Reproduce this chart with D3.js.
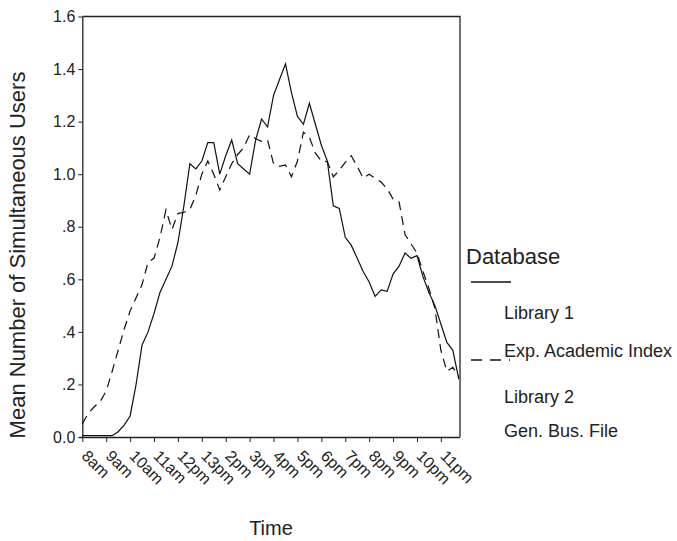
<!DOCTYPE html>
<html lang="en">
<head>
    <title>Mean Number of Simultaneous Users</title>
    <style>
        body { margin: 0; background: #fff; }
        svg { font-family: "Liberation Sans", Arial, sans-serif; }
        .axis path, .axis line { stroke: #222; }
        .axis text { fill: #222; }
    </style>
    <script src="https://d3js.org/d3.v7.min.js"></script>
</head>
<body>
    <svg></svg>
    <script>
        // hour labels under the ticks (one tick per hour, 8am .. 11pm)
        var hourLabels = ["8am", "9am", "10am", "11am", "12pm", "13pm", "2pm", "3pm",
                          "4pm", "5pm", "6pm", "7pm", "8pm", "9pm", "10pm", "11pm"];
        var yTicks = [0, 0.2, 0.4, 0.6, 0.8, 1.0, 1.2, 1.4, 1.6];
        var yTickLabels = ["0.0", ".2", ".4", ".6", ".8", "1.0", "1.2", "1.4", "1.6"];

        // readings are every 15 minutes starting at 8:00
        var startHour = 8, slotHours = 0.25;

        // Library 1 - Exp. Academic Index (solid)
        var library1 = [0.005, 0.005, 0.005, 0.005, 0.005, 0.005, 0.02, 0.045, 0.08, 0.2,
                        0.35, 0.40, 0.47, 0.55, 0.60, 0.65, 0.74, 0.88, 1.04, 1.02,
                        1.05, 1.12, 1.12, 1.0, 1.07, 1.13, 1.04, 1.02, 1.0, 1.13,
                        1.21, 1.18, 1.30, 1.36, 1.42, 1.31, 1.22, 1.19, 1.27, 1.19,
                        1.11, 1.05, 0.88, 0.87, 0.76, 0.73, 0.68, 0.63, 0.59, 0.535,
                        0.56, 0.554, 0.62, 0.65, 0.70, 0.68, 0.69, 0.61, 0.55, 0.50,
                        0.43, 0.36, 0.33, 0.22];
        // Library 2 - Gen. Bus. File (dashed)
        var library2 = [0.05, 0.09, 0.115, 0.135, 0.175, 0.25, 0.33, 0.41, 0.48, 0.53,
                        0.58, 0.665, 0.68, 0.76, 0.864, 0.79, 0.85, 0.855, 0.865, 0.92,
                        1.0, 1.05, 1.0, 0.94, 0.99, 1.04, 1.075, 1.10, 1.15, 1.135,
                        1.125, 1.13, 1.04, 1.03, 1.035, 0.99, 1.05, 1.16, 1.14, 1.08,
                        1.05, 1.048, 0.99, 1.015, 1.045, 1.07, 1.03, 0.985, 1.0, 0.985,
                        0.97, 0.945, 0.905, 0.895, 0.77, 0.735, 0.70, 0.63, 0.565, 0.49,
                        0.33, 0.25, 0.265, 0.23];

        var margin = {top: 16.5, right: 217, bottom: 104, left: 82.3},
            width = 677 - margin.left - margin.right,
            height = 541 - margin.top - margin.bottom;

        var x = d3.scaleLinear()
            .domain([8, 23.8])
            .range([0, width]);
        var y = d3.scaleLinear()
            .domain([0, 1.6])
            .range([height, 0]);

        var svg = d3.select("svg")
            .attr("width", 677)
            .attr("height", 541);
        var g = svg.append("g")
            .attr("transform", "translate(" + margin.left + "," + margin.top + ")");

        // frame top and right
        g.append("path")
            .attr("d", "M0,0H" + width + "V" + height)
            .attr("fill", "none")
            .attr("stroke", "#222")
            .attr("stroke-width", 1.3);

        // x axis
        var xAxis = g.append("g")
            .attr("class", "axis")
            .attr("transform", "translate(0," + height + ")")
            .call(d3.axisBottom(x)
                .tickValues(d3.range(hourLabels.length).map(function(i) { return startHour + i; }))
                .tickFormat(function(d, i) { return hourLabels[i]; })
                .tickSize(5)
                .tickSizeOuter(0));
        xAxis.select(".domain").attr("stroke-width", 1.3)
            .attr("d", "M-3,0.5H" + width);
        xAxis.selectAll(".tick text")
            .attr("y", 0).attr("dy", 0)
            .attr("font-size", 16)
            .attr("text-anchor", "start")
            .attr("transform", "translate(-2,20) rotate(45)");

        // y axis
        var yAxis = g.append("g")
            .attr("class", "axis")
            .call(d3.axisLeft(y)
                .tickValues(yTicks)
                .tickFormat(function(d, i) { return yTickLabels[i]; })
                .tickSize(4)
                .tickSizeOuter(0));
        yAxis.select(".domain").attr("stroke-width", 1.3);
        yAxis.selectAll(".tick text")
            .attr("font-size", 16)
            .attr("x", -7);

        // the two series
        var line = d3.line()
            .x(function(d, i) { return x(startHour + i * slotHours); })
            .y(function(d) { return y(d); });

        g.append("path")
            .datum(library1)
            .attr("fill", "none")
            .attr("stroke", "#111")
            .attr("stroke-width", 1.2)
            .attr("d", line);
        g.append("path")
            .datum(library2)
            .attr("fill", "none")
            .attr("stroke", "#111")
            .attr("stroke-width", 1.2)
            .attr("stroke-dasharray", "9,6")
            .attr("d", line);

        // axis titles
        svg.append("text")
            .attr("transform", "translate(25,255) rotate(-90)")
            .attr("text-anchor", "middle")
            .attr("font-size", 22)
            .attr("fill", "#222")
            .text("Mean Number of Simultaneous Users");
        svg.append("text")
            .attr("x", 271).attr("y", 535)
            .attr("text-anchor", "middle")
            .attr("font-size", 20)
            .attr("fill", "#222")
            .text("Time");

        // legend
        var legend = svg.append("g").attr("fill", "#222");
        legend.append("text")
            .attr("x", 466).attr("y", 264)
            .attr("font-size", 22)
            .text("Database");
        legend.append("line")
            .attr("x1", 471).attr("x2", 511)
            .attr("y1", 282).attr("y2", 282)
            .attr("stroke", "#111").attr("stroke-width", 1.3);
        legend.append("text").attr("x", 504).attr("y", 319).attr("font-size", 18).text("Library 1");
        legend.append("text").attr("x", 504).attr("y", 357).attr("font-size", 18).text("Exp. Academic Index");
        legend.append("line")
            .attr("x1", 471).attr("x2", 510)
            .attr("y1", 360).attr("y2", 360)
            .attr("stroke", "#111").attr("stroke-width", 1.3)
            .attr("stroke-dasharray", "11,8");
        legend.append("text").attr("x", 504).attr("y", 403).attr("font-size", 18).text("Library 2");
        legend.append("text").attr("x", 504).attr("y", 437).attr("font-size", 18).text("Gen. Bus. File");
    </script>
</body>
</html>
